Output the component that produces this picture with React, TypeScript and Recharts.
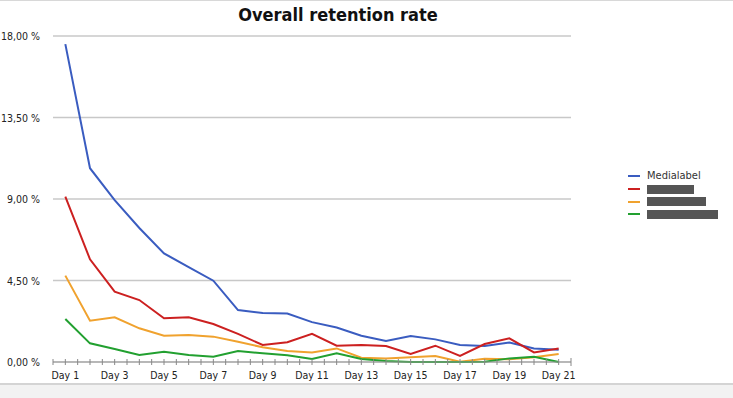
import React from "react";
import { LineChart, Line, XAxis, YAxis, CartesianGrid } from "recharts";

const days = [
  "Day 1", "Day 2", "Day 3", "Day 4", "Day 5", "Day 6", "Day 7", "Day 8", "Day 9", "Day 10",
  "Day 11", "Day 12", "Day 13", "Day 14", "Day 15", "Day 16", "Day 17", "Day 18", "Day 19", "Day 20", "Day 21",
];
const medialabel = [17.55, 10.7, 8.94, 7.4, 6.0, 5.24, 4.49, 2.87, 2.7, 2.68, 2.2, 1.9, 1.45, 1.16, 1.44, 1.25, 0.94, 0.88, 1.07, 0.75, 0.68];
const seriesB = [9.13, 5.67, 3.88, 3.42, 2.41, 2.47, 2.1, 1.55, 0.94, 1.09, 1.56, 0.9, 0.94, 0.88, 0.44, 0.9, 0.33, 0.99, 1.31, 0.53, 0.75];
const seriesC = [4.77, 2.28, 2.47, 1.86, 1.45, 1.49, 1.4, 1.12, 0.81, 0.61, 0.52, 0.75, 0.24, 0.2, 0.26, 0.33, 0.02, 0.18, 0.15, 0.26, 0.44];
const seriesD = [2.37, 1.03, 0.72, 0.39, 0.57, 0.39, 0.29, 0.61, 0.48, 0.37, 0.17, 0.48, 0.17, 0.06, 0.0, 0.0, 0.0, 0.02, 0.2, 0.29, 0.0];
const yTicks = [0, 4.5, 9, 13.5, 18];

const series = [
  { key: "medialabel", name: "Medialabel", color: "#3a5cc0", redacted: 0 },
  { key: "b", name: "Series B", color: "#cc2020", redacted: 47 },
  { key: "c", name: "Series C", color: "#f0a22e", redacted: 59 },
  { key: "d", name: "Series D", color: "#22a030", redacted: 71 },
];

const data = days.map((d, i) => ({
  day: d,
  medialabel: medialabel[i],
  b: seriesB[i],
  c: seriesC[i],
  d: seriesD[i],
}));

const W = 733;
const H = 383;
const PLOT_LEFT = 53;
const PLOT_RIGHT = 571;
const PLOT_TOP = 36;
const PLOT_BOTTOM = 362;
const HALF = (PLOT_RIGHT - PLOT_LEFT) / days.length / 2;
const FONT = "'DejaVu Sans Condensed', 'DejaVu Sans', sans-serif";

const XTick = (props: any) => {
  const { x, y, payload, index } = props;
  return (
    <g>
      <line x1={x} x2={x} y1={y - 3} y2={y + 3} stroke="#888" strokeWidth={1} />
      <line x1={x - HALF} x2={x - HALF} y1={y - 3} y2={y + 3} stroke="#888" strokeWidth={1} />
      {index === days.length - 1 && (
        <line x1={x + HALF} x2={x + HALF} y1={y - 4} y2={y + 4} stroke="#888" strokeWidth={1} />
      )}
      {index % 2 === 0 && (
        <text x={x} y={y + 17} textAnchor="middle" fontSize={10.5} fontFamily={FONT} fill="#222">
          {payload.value}
        </text>
      )}
    </g>
  );
};

const YTick = (props: any) => {
  const { x, y, payload } = props;
  return (
    <text x={x} y={y + 4} textAnchor="end" fontSize={10.5} fontFamily={FONT} fill="#222">
      {payload.value.toFixed(2).replace(".", ",") + " %"}
    </text>
  );
};

export default function App() {
  return (
    <div style={{ position: "absolute", left: 0, top: 0, width: 733, height: 398, background: "#fff", overflow: "hidden" }}>
      <div style={{ position: "absolute", left: 0, top: 0, width: 733, height: 1, background: "#d8d8d8" }} />
      <div
        style={{
          position: "absolute",
          left: 0,
          top: 6,
          width: 676,
          textAlign: "center",
          fontFamily: FONT,
          fontWeight: "bold",
          fontSize: 18,
          color: "#111",
          lineHeight: "18px",
        }}
      >
        Overall retention rate
      </div>
      <div style={{ position: "absolute", left: 0, top: 0 }}>
        <LineChart
          width={W}
          height={H}
          data={data}
          margin={{ top: PLOT_TOP, right: W - PLOT_RIGHT, bottom: 0, left: 0 }}
        >
          <CartesianGrid horizontal vertical={false} stroke="#c8c8c8" strokeWidth={1.5} />
          <XAxis
            dataKey="day"
            interval={0}
            padding={{ left: HALF, right: HALF }}
            tickLine={false}
            tickSize={0}
            tickMargin={0}
            axisLine={{ stroke: "#999", strokeWidth: 1 }}
            tick={<XTick />}
            height={H - PLOT_BOTTOM}
          />
          <YAxis
            domain={[0, 18]}
            ticks={yTicks}
            width={PLOT_LEFT}
            axisLine={false}
            tickLine={false}
            tickSize={0}
            tickMargin={13}
            tick={<YTick />}
            interval={0}
          />
          {series.map((s) => (
            <Line
              key={s.key}
              type="linear"
              dataKey={s.key}
              name={s.name}
              stroke={s.color}
              strokeWidth={2}
              dot={false}
              activeDot={false}
              isAnimationActive={false}
            />
          ))}
        </LineChart>
      </div>
      <div style={{ position: "absolute", left: 628, top: 170, width: 105, fontFamily: FONT, fontSize: 11, color: "#333" }}>
        {series.map((s) => (
          <div key={s.key} style={{ display: "flex", alignItems: "center", height: 12.7 }}>
            <div style={{ width: 12, height: 2, background: s.color, marginRight: 7 }} />
            {s.redacted ? (
              <div style={{ width: s.redacted, height: 9, background: "#555" }} />
            ) : (
              <span style={{ lineHeight: "12px" }}>{s.name}</span>
            )}
          </div>
        ))}
      </div>
      <div style={{ position: "absolute", left: 0, top: 383, width: 733, height: 15, background: "#f2f2f2", borderTop: "2px solid #d4d4d4" }} />
    </div>
  );
}
